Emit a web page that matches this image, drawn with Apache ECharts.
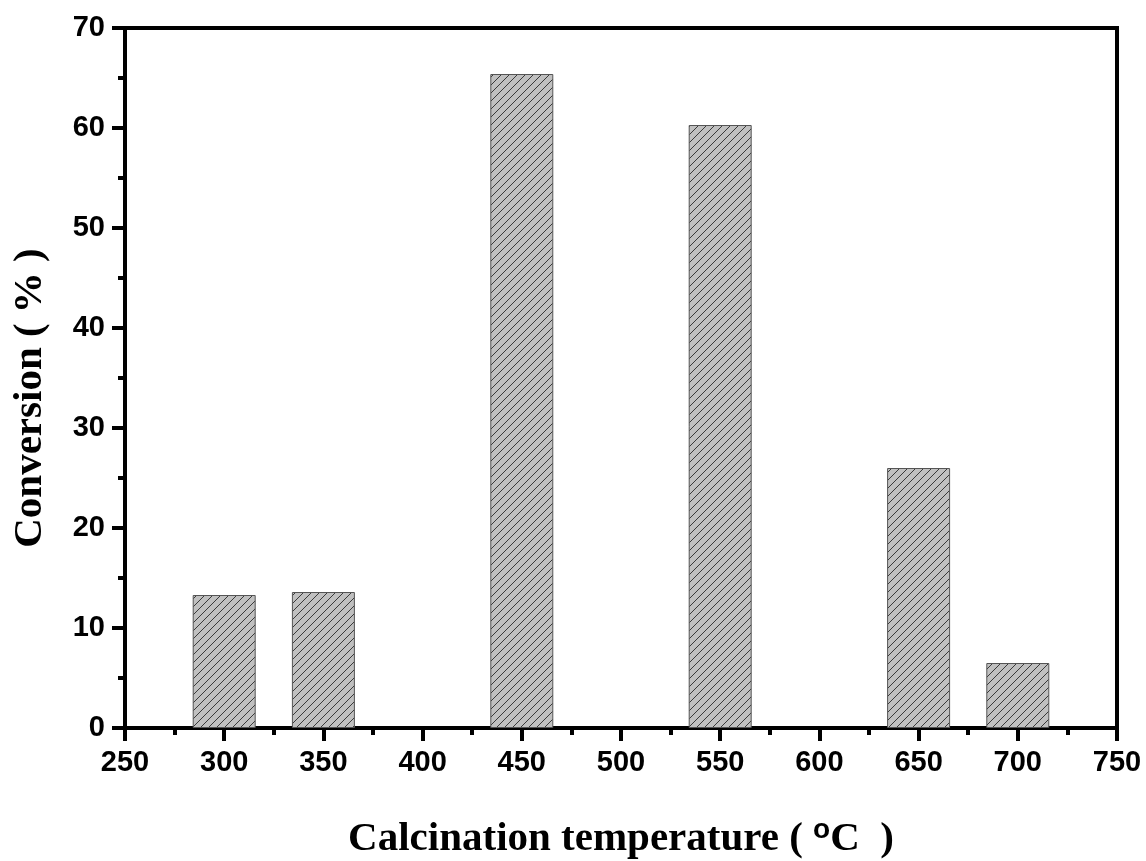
<!DOCTYPE html>
<html>
<head>
<meta charset="utf-8">
<script src="https://cdn.jsdelivr.net/npm/echarts@6/dist/echarts.min.js"></script>
<style>
  html, body { margin: 0; padding: 0; background: #fff; }
  #chart { width: 1146px; height: 861px; }
</style>
</head>
<body>
<div id="chart"></div>
<script>
const temperatures = [300, 350, 450, 550, 650, 700];
const conversions = [13.3, 13.6, 65.4, 60.3, 26.0, 6.5];

// diagonal hatch tile
const tile = document.createElement("canvas");
tile.width = 8;
tile.height = 8;
const ctx = tile.getContext("2d");
ctx.fillStyle = "#c0c0c0";
ctx.fillRect(0, 0, 8, 8);
ctx.strokeStyle = "#3a3a3a";
ctx.lineWidth = 1;
ctx.beginPath();
ctx.moveTo(-1, 9); ctx.lineTo(9, -1);
ctx.moveTo(-1, 1); ctx.lineTo(1, -1);
ctx.moveTo(7, 9); ctx.lineTo(9, 7);
ctx.stroke();

const chart = echarts.init(document.getElementById("chart"));

const axisLine = { show: true, lineStyle: { color: "#000", width: 4 } };
const majorTick = { show: true, inside: false, length: 13, lineStyle: { width: 4, color: "#000" } };
const minorTick = { show: true, splitNumber: 2, length: 7, lineStyle: { width: 4, color: "#000" } };
const labelFont = {
  color: "#000",
  fontFamily: "Liberation Sans, Arial, sans-serif",
  fontWeight: "bold",
  fontSize: 29,
};
const titleFont = {
  color: "#000",
  fontFamily: "Liberation Serif, Times New Roman, serif",
  fontWeight: "bold",
  fontSize: 41,
};

chart.setOption({
  animation: false,
  grid: {
    left: 125,
    right: 29,
    top: 28,
    bottom: 133,
    outerBoundsMode: "none",
    containLabel: false,
    show: true,
    borderColor: "#000",
    borderWidth: 4,
  },
  xAxis: {
    type: "value",
    min: 250,
    max: 750,
    interval: 50,
    axisLine: axisLine,
    axisTick: majorTick,
    minorTick: minorTick,
    splitLine: { show: false },
    axisLabel: Object.assign({ margin: 20 }, labelFont),
    name: "Calcination temperature ( {sup|o}C  )",
    nameLocation: "middle",
    nameGap: 88,
    nameTextStyle: Object.assign({
      rich: {
        sup: {
          color: "#000",
          fontFamily: "Liberation Sans, Arial, sans-serif",
          fontWeight: "bold",
          fontSize: 28,
          verticalAlign: "bottom",
          padding: [0, 0, 18, 0],
        },
      },
    }, titleFont),
  },
  yAxis: {
    type: "value",
    min: 0,
    max: 70,
    interval: 10,
    axisLine: axisLine,
    axisTick: majorTick,
    minorTick: minorTick,
    splitLine: { show: false },
    axisLabel: Object.assign({ margin: 20 }, labelFont),
    name: "Conversion ( % )",
    nameLocation: "middle",
    nameGap: 74,
    nameTextStyle: Object.assign({ padding: [0, 40, 0, 0] }, titleFont),
  },
  series: [
    {
      type: "bar",
      barWidth: 63,
      data: temperatures.map((t, i) => [t, conversions[i]]),
      itemStyle: {
        color: { image: tile, repeat: "repeat" },
        borderColor: "#555",
        borderWidth: 1,
      },
    },
  ],
});
</script>
</body>
</html>
